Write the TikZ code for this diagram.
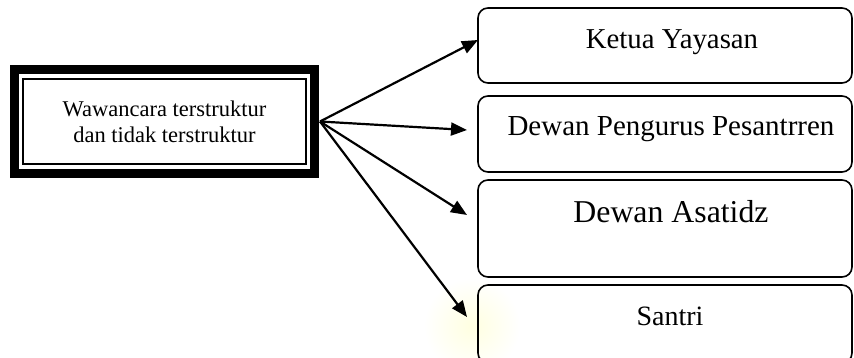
\documentclass[tikz,border=0pt]{standalone}
\usepackage{fontspec}
\setmainfont{Liberation Serif}
\usetikzlibrary{arrows.meta}
\begin{document}
\begin{tikzpicture}[x=1pt,y=-1pt,
  srcbox/.style={draw, line width=9pt, outer sep=0pt, minimum width=300pt, minimum height=104pt, align=center, inner sep=0pt, font=\fontsize{22.5}{26}\selectfont},
  destbox/.style={draw, rounded corners=10pt, line width=1.6pt, outer sep=0pt, minimum width=374pt, inner sep=0pt},
  desttext/.style={anchor=base, inner sep=0pt},
  arr/.style={line width=2.2pt, -{Triangle[length=16pt,width=13pt]}}]
\useasboundingbox (0,0) rectangle (854,358);
\fill[white] (0,0) rectangle (854,358);
% faint watermark glow
\shade[inner color=yellow!12, outer color=white] (472,326) circle (48);
% source box
\node[srcbox] (src) at (164.5,121.5) {Wawancara terstruktur\\dan tidak terstruktur};
\draw[line width=2pt] ([shift={(8.5pt,-9.5pt)}]src.north west) rectangle ([shift={(-8.5pt,9.5pt)}]src.south east);
% destination boxes
\node[destbox, minimum height=75pt] (k) at (665,45.5) {};
\node[destbox, minimum height=76pt] (p) at (665,134) {};
\node[destbox, minimum height=97pt] (a) at (665,228.5) {};
\node[destbox, minimum height=78pt] (s) at (665,324) {};
\node[desttext, font=\fontsize{28.8}{32}\selectfont] (tk) at (672,49) {Ketua Yayasan};
\node[desttext, font=\fontsize{29}{32}\selectfont] (tp) at (671,136) {Dewan Pengurus Pesantrren};
\node[desttext, font=\fontsize{31.8}{34}\selectfont] (ta) at (671,223) {Dewan Asatidz};
\node[desttext, font=\fontsize{28}{32}\selectfont] (ts) at (670,325) {Santri};
% arrows
\coordinate (o) at ([xshift=5.5pt]src.east);
\coordinate (e1) at ([yshift=5.5pt]k.west);
\coordinate (e2) at (467,130);
\coordinate (e3) at (467,215);
\coordinate (e4) at (467,317);
\draw[arr] (o) -- (e1);
\draw[arr] (o) -- (e2);
\draw[arr] (o) -- (e3);
\draw[arr] (o) -- (e4);
\end{tikzpicture}
\end{document}
